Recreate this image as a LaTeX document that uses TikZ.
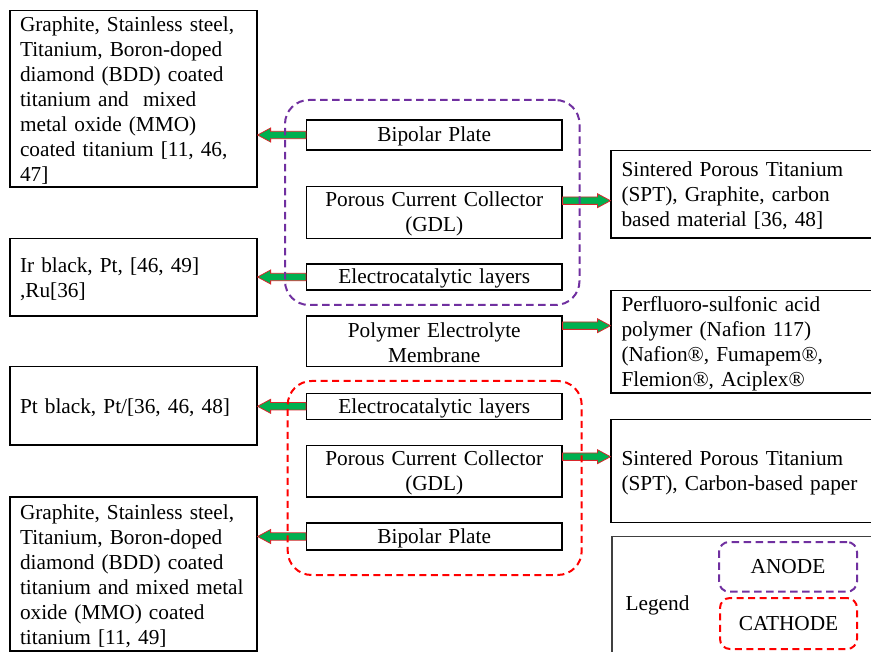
\documentclass[tikz,border=0pt]{standalone}
\usepackage{fontspec}
\setmainfont{Liberation Serif}
\usetikzlibrary{calc,fit}
\definecolor{anodec}{HTML}{7030A0}
\definecolor{cathc}{HTML}{FF0000}
\definecolor{arrg}{HTML}{00B050}
\definecolor{arrr}{HTML}{D9262B}
\definecolor{leggray}{HTML}{404040}
\tikzset{
  box/.style={draw=black, line width=1.2pt, inner sep=0pt, execute at begin node={\rule{0pt}{18.5pt}}},
  leftbox/.style={box, minimum width=247pt, text width=227pt, align=left},
  midbox/.style={box, minimum width=255.5pt, text width=250pt, align=center},
  rightbox/.style={box, minimum width=261pt, text width=240pt, align=left},
  anodegrp/.style={draw=anodec, line width=2pt, dash pattern=on 7.5pt off 4.5pt, rounded corners=24pt},
  cathgrp/.style={draw=cathc, line width=2pt, dash pattern=on 7pt off 4.5pt, rounded corners=24pt},
  blockarrow/.style={draw=arrr, fill=arrg, line width=0.8pt, line join=miter,
    to path={let \p1=(\tikztostart), \p2=(\tikztotarget), \n1={ifthenelse(\x2>\x1,1,-1)} in
      (\x1,{\y1+3.7pt}) -- ({\x2-(\n1)*13pt},{\y1+3.7pt}) -- ({\x2-(\n1)*13pt},{\y1+7pt})
      -- (\x2,\y1) -- ({\x2-(\n1)*13pt},{\y1-7pt}) -- ({\x2-(\n1)*13pt},{\y1-3.7pt})
      -- (\x1,{\y1-3.7pt}) -- cycle}}
}
\begin{document}
\begin{tikzpicture}[x=1pt, y=-1pt, font=\fontsize{21.3}{25}\selectfont]
\useasboundingbox (0,0) rectangle (871,652);

% left column
\node[leftbox, minimum height=176.3pt] (tl) at (133.5,98.85)
  {Graphite, Stainless steel,\\Titanium, Boron-doped\\diamond (BDD) coated\\titanium and\ \ mixed\\metal oxide (MMO)\\coated titanium [11, 46,\\47]};
\node[leftbox, minimum height=77.7pt] (ir) at (133.5,277.15)
  {Ir black, Pt, [46, 49]\\,Ru[36]};
\node[leftbox, minimum height=78.3pt] (ptb) at (133.5,405.85)
  {Pt black, Pt/[36, 46, 48]};
\node[leftbox, minimum height=154pt] (bl) at (133.5,574)
  {Graphite, Stainless steel,\\Titanium, Boron-doped\\diamond (BDD) coated\\titanium and mixed metal\\oxide (MMO) coated\\titanium [11, 49]};

% middle column
\node[midbox, minimum height=30pt] (bpA) at (434.25,135) {Bipolar Plate};
\node[midbox, minimum height=51.6pt] (porA) at (434.25,212.5) {Porous Current Collector\\(GDL)};
\node[midbox, minimum height=26pt] (elA) at (434.25,277) {Electrocatalytic layers};
\node[midbox, minimum height=50.7pt] (pem) at (434.25,341.3) {Polymer Electrolyte\\Membrane};
\node[midbox, minimum height=26pt] (elC) at (434.25,406.3) {Electrocatalytic layers};
\node[midbox, minimum height=51.3pt] (porC) at (434.25,471.3) {Porous Current Collector\\(GDL)};
\node[midbox, minimum height=27pt] (bpC) at (434.25,536.5) {Bipolar Plate};

% right column
\node[rightbox, minimum height=87.3pt] (spt1) at (741.5,194.35)
  {Sintered Porous Titanium\\(SPT), Graphite, carbon\\based material [36, 48]};
\node[rightbox, minimum height=102.3pt] (pfsa) at (741.5,341.85)
  {Perfluoro-sulfonic acid\\polymer (Nafion 117)\\(Nafion®, Fumapem®,\\Flemion®, Aciplex®};
\node[rightbox, minimum height=103.4pt] (spt2) at (741.5,471)
  {Sintered Porous Titanium\\(SPT), Carbon-based paper};

% legend
\node[draw=leggray, line width=1.5pt, inner sep=0pt, minimum width=300pt, minimum height=140pt,
      anchor=north west] (leg) at (611,535.7) {};
\node[anchor=base] (legt) at (657.5,610.7) {Legend};
\node[anodegrp, rounded corners=10pt, inner sep=0pt, minimum width=138pt, minimum height=49.7pt]
  (legA) at (788,566.85) {ANODE};
\node[cathgrp, rounded corners=10pt, inner sep=0pt, minimum width=137pt, minimum height=51pt]
  (legC) at (788.5,623.5) {CATHODE};

% arrows
\draw[blockarrow] (bpA.west) to (tl.east);
\draw[blockarrow] ([yshift=11.8pt]porA.east) to (spt1.west);
\draw[blockarrow] (elA.west) to (ir.east);
\draw[blockarrow] ([yshift=15.6pt]pem.east) to (pfsa.west);
\draw[blockarrow] (elC.west) to (ptb.east);
\draw[blockarrow] ([yshift=14.6pt]porC.east) to (spt2.west);
\draw[blockarrow] (bpC.west) to (bl.east);

% groups
\node[anodegrp, fit={(285,100) (579.5,305)}, inner sep=0pt] (anode) {};
\node[cathgrp, fit={(287.7,381) (581.7,575)}, inner sep=0pt] (cathode) {};
\end{tikzpicture}
\end{document}
